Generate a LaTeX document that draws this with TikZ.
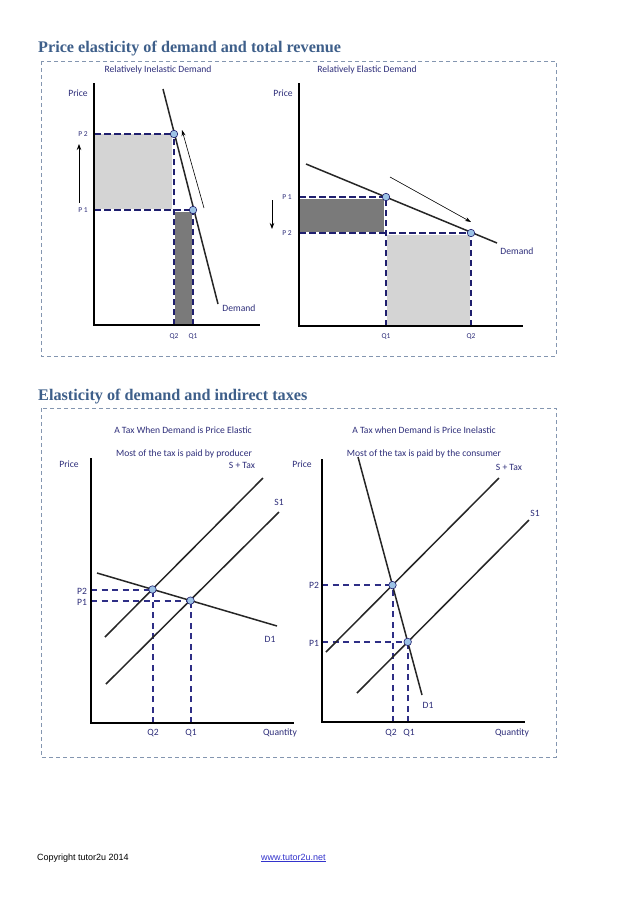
\documentclass[tikz,border=0pt]{standalone}
\usepackage{fontspec}
\setmainfont{Carlito}
\newfontfamily\titlefont{Liberation Serif}
\newfontfamily\footfont{Liberation Sans}
\usetikzlibrary{arrows.meta}
\definecolor{titleblue}{HTML}{3E5F8A}
\definecolor{labnavy}{HTML}{2E2E7A}
\definecolor{dashnavy}{HTML}{1F1F6E}
\definecolor{dashnavyb}{HTML}{2E2E86}
\definecolor{boxgray}{HTML}{8496B0}
\definecolor{ptfill}{HTML}{9DC3E6}
\definecolor{lightfill}{HTML}{D4D4D4}
\definecolor{darkfill}{HTML}{7A7A7A}
\definecolor{linkblue}{HTML}{3333CC}
\tikzset{
  lab/.style={font=\fontsize{9.6}{11}\selectfont, text=labnavy, inner sep=0pt},
  smalllab/.style={font=\fontsize{7.5}{9}\selectfont, text=labnavy, inner sep=0pt},
  ttl/.style={font=\titlefont\bfseries\fontsize{16.2}{19}\selectfont, text=titleblue, inner sep=0pt, anchor=base west},
  axisline/.style={line width=1.6pt, black},
  curve/.style={line width=1.5pt, black!85},
  guide/.style={dashnavy, line width=2.2pt, dash pattern=on 6.5pt off 3.5pt},
  guideb/.style={dashnavyb, line width=2pt, dash pattern=on 6pt off 4.5pt},
  framebox/.style={boxgray, line width=0.8pt, dash pattern=on 4pt off 3pt},
  eqpt/.style={circle, draw=dashnavy, fill=ptfill, line width=0.6pt, minimum size=7.5pt, inner sep=0pt},
  thinarrow/.style={line width=0.6pt, -{Stealth[length=6pt,width=4pt]}},
  bigarrow/.style={line width=0.8pt, -{Stealth[length=6pt,width=4.5pt]}},
}
\begin{document}
\begin{tikzpicture}[x=1pt, y=-1pt]
\useasboundingbox (0,0) rectangle (638,903);
\fill[white] (0,0) rectangle (638,903);

% ---------------- Section 1 ----------------
\node[ttl] (t1) at (38,52) {Price elasticity of demand and total revenue};
\draw[framebox] (41,61) rectangle (556,356);

% Top-left: relatively inelastic
\node[lab] (tlh) at (158,70) {Relatively Inelastic Demand};
\fill[lightfill] (94,134) rectangle (172,209);
\fill[darkfill] (175,212) rectangle (192,325);
\coordinate (tlP2) at (174,134);
\coordinate (tlP1) at (193,210);
\coordinate (tlPa) at (94,134);
\coordinate (tlPb) at (94,210);
\coordinate (tlQ2) at (174,325);
\coordinate (tlQ1) at (193,325);
\draw[guide] (tlPa) -- (tlP2);
\draw[guide] (tlPb) -- (tlP1);
\draw[guide] (tlQ2) -- (tlP2);
\draw[guide] (tlQ1) -- (tlP1);
\coordinate (tlY) at (94,83);
\coordinate (tlO) at (94,325);
\coordinate (tlX) at (260,325);
\draw[axisline] (tlY) -- (tlO) -- (tlX);
\coordinate (tlDa) at (163,89);
\coordinate (tlDb) at (218,304);
\draw[curve] (tlDa) -- (tlDb);
\node[eqpt] (tlp2) at (tlP2) {};
\node[eqpt] (tlp1) at (tlP1) {};
\coordinate (tlAa) at (204,208);
\coordinate (tlAb) at (182,130);
\draw[thinarrow] (tlAa) -- (tlAb);
\coordinate (tlUa) at (79,203);
\coordinate (tlUb) at (79,144);
\draw[bigarrow] (tlUa) -- (tlUb);
\node[lab] (tlprice) at (78,93) {Price};
\node[smalllab] (tlp2l) at (83,134) {P 2};
\node[smalllab] (tlp1l) at (83,210) {P 1};
\node[smalllab] (tlq2l) at (174,337) {Q2};
\node[smalllab] (tlq1l) at (193,337) {Q1};
\node[lab] (tldem) at (239,308) {Demand};

% Top-right: relatively elastic
\node[lab] (trh) at (367,70) {Relatively Elastic Demand};
\fill[darkfill] (299,199) rectangle (384,232);
\fill[lightfill] (387,235) rectangle (470,326);
\coordinate (trP1) at (386,197);
\coordinate (trP2) at (471,233);
\coordinate (trPa) at (299,197);
\coordinate (trPb) at (299,233);
\coordinate (trQ1) at (386,326);
\coordinate (trQ2) at (471,326);
\draw[guide] (trPa) -- (trP1);
\draw[guide] (trPb) -- (trP2);
\draw[guide] (trQ1) -- (trP1);
\draw[guide] (trQ2) -- (trP2);
\coordinate (trY) at (299,83);
\coordinate (trO) at (299,326);
\coordinate (trX) at (523,326);
\draw[axisline] (trY) -- (trO) -- (trX);
\coordinate (trDa) at (306,164);
\coordinate (trDb) at (497,243);
\draw[curve] (trDa) -- (trDb);
\node[eqpt] (trp1) at (trP1) {};
\node[eqpt] (trp2) at (trP2) {};
\coordinate (trAa) at (390,177);
\coordinate (trAb) at (471,222);
\draw[thinarrow] (trAa) -- (trAb);
\coordinate (trUa) at (272,200);
\coordinate (trUb) at (272,229);
\draw[bigarrow] (trUa) -- (trUb);
\node[lab] (trprice) at (283,93) {Price};
\node[smalllab] (trp1l) at (287,197) {P 1};
\node[smalllab] (trp2l) at (287,233) {P 2};
\node[smalllab] (trq1l) at (386,337) {Q1};
\node[smalllab] (trq2l) at (471,337) {Q2};
\node[lab] (trdem) at (517,251) {Demand};

% ---------------- Section 2 ----------------
\node[ttl] (t2) at (38,400) {Elasticity of demand and indirect taxes};
\draw[framebox] (41,408) rectangle (556,757);

% Bottom-left: elastic demand
\node[lab] (blh1) at (183,430) {A Tax When Demand is Price Elastic};
\node[lab] (blh2) at (184,454) {Most of the tax is paid by producer};
\coordinate (blP2) at (152.5,589.5);
\coordinate (blP1) at (190.5,600.6);
\coordinate (blPa) at (91,589.5);
\coordinate (blPb) at (91,600.6);
\coordinate (blQ2) at (152.5,723);
\coordinate (blQ1) at (190.5,723);
\draw[guideb] (blPa) -- (blP2);
\draw[guideb] (blPb) -- (blP1);
\draw[guideb] (blQ2) -- (blP2);
\draw[guideb] (blQ1) -- (blP1);
\coordinate (blY) at (91,458);
\coordinate (blO) at (91,723);
\coordinate (blX) at (294,723);
\draw[axisline] (blY) -- (blO) -- (blX);
\coordinate (blTa) at (105,637);
\coordinate (blTb) at (263,478);
\coordinate (blSa) at (106,684);
\coordinate (blSb) at (279,512);
\coordinate (blDa) at (97,573);
\coordinate (blDb) at (277,626);
\draw[curve] (blTa) -- (blTb);
\draw[curve] (blSa) -- (blSb);
\draw[curve] (blDa) -- (blDb);
\node[eqpt] (blp2) at (blP2) {};
\node[eqpt] (blp1) at (blP1) {};
\node[lab] (blprice) at (69,464) {Price};
\node[lab] (bltax) at (242,465) {S + Tax};
\node[lab] (bls1) at (279,502) {S1};
\node[lab] (bld1) at (270,639) {D1};
\node[lab] (blp2l) at (82,591) {P2};
\node[lab] (blp1l) at (82,602) {P1};
\node[lab] (blq2l) at (153,733) {Q2};
\node[lab] (blq1l) at (191,733) {Q1};
\node[lab] (blqty) at (280,733) {Quantity};

% Bottom-right: inelastic demand
\node[lab] (brh1) at (424,430) {A Tax when Demand is Price Inelastic};
\node[lab] (brh2) at (424,454) {Most of the tax is paid by the consumer};
\coordinate (brP2) at (392.5,585.1);
\coordinate (brP1) at (407.7,641.9);
\coordinate (brPa) at (322,585.1);
\coordinate (brPb) at (322,641.9);
\coordinate (brQ2) at (392.5,722);
\coordinate (brQ1) at (407.7,722);
\draw[guideb] (brPa) -- (brP2);
\draw[guideb] (brPb) -- (brP1);
\draw[guideb] (brQ2) -- (brP2);
\draw[guideb] (brQ1) -- (brP1);
\coordinate (brY) at (322,459);
\coordinate (brO) at (322,722);
\coordinate (brX) at (525,722);
\draw[axisline] (brY) -- (brO) -- (brX);
\coordinate (brDa) at (358,457);
\coordinate (brDb) at (422,695);
\coordinate (brTa) at (326,652);
\coordinate (brTb) at (499,478);
\coordinate (brSa) at (357,693);
\coordinate (brSb) at (529,520);
\draw[curve] (brTa) -- (brTb);
\draw[curve] (brSa) -- (brSb);
\draw[curve] (brDa) -- (brDb);
\node[eqpt] (brp2) at (brP2) {};
\node[eqpt] (brp1) at (brP1) {};
\node[lab] (brprice) at (302,464) {Price};
\node[lab] (brtax) at (509,467) {S + Tax};
\node[lab] (brs1) at (535,513) {S1};
\node[lab] (brd1) at (428,705) {D1};
\node[lab] (brp2l) at (314,585) {P2};
\node[lab] (brp1l) at (314,643) {P1};
\node[lab] (brq2l) at (391,733) {Q2};
\node[lab] (brq1l) at (409,733) {Q1};
\node[lab] (brqty) at (512,733) {Quantity};

% ---------------- Footer ----------------
\node[font=\footfont\fontsize{9}{11}\selectfont, anchor=west, inner sep=0pt] (copy) at (37,858) {Copyright tutor2u 2014};
\node[font=\footfont\fontsize{9}{11}\selectfont, text=linkblue, anchor=west, inner sep=0pt] (url) at (261,858) {\underline{www.tutor2u.net}};
\end{tikzpicture}
\end{document}
